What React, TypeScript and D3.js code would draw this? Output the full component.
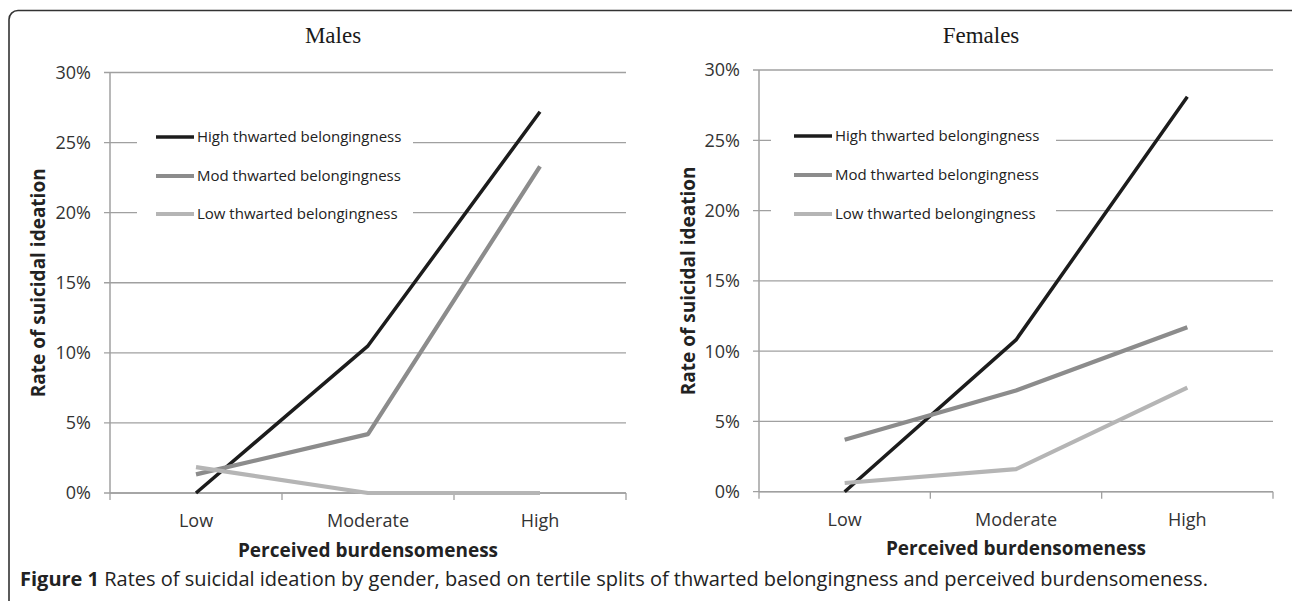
import React from "react";
import * as d3 from "d3";

const categories = ["Low", "Moderate", "High"];
const seriesNames = ["High thwarted belongingness", "Mod thwarted belongingness", "Low thwarted belongingness"];
const seriesColors = ["#1c1c1c", "#8c8c8c", "#b5b5b5"];
const seriesWidths = [3.5, 4.2, 4.2];

const malesHigh = [0, 10.5, 27.2];
const malesMod = [1.33, 4.2, 23.3];
const malesLow = [1.85, 0, 0];

const femalesHigh = [0, 10.8, 28.1];
const femalesMod = [3.7, 7.2, 11.7];
const femalesLow = [0.62, 1.6, 7.4];

const yTicks = [0, 5, 10, 15, 20, 25, 30];

const SANS = "'Open Sans', 'DejaVu Sans', sans-serif";
const SERIF = "'Liberation Serif', 'DejaVu Serif', serif";

type PanelProps = {
  title: string;
  values: number[][];
  x0: number;
  x1: number;
  yTop: number;
  yBottom: number;
  titleX: number;
  legendX: number;
  legendRows: number[];
  legendBox: [number, number];
  yTitleX: number;
  xTitleY: number;
};

function Panel(p: PanelProps) {
  const x = d3.scaleBand<string>().domain(categories).range([p.x0, p.x1]);
  const y = d3.scaleLinear().domain([0, 30]).range([p.yBottom, p.yTop]);
  const line = d3
    .line<number>()
    .x((_, i) => (x(categories[i]) as number) + x.bandwidth() / 2)
    .y((d) => y(d));
  const bounds = [...categories.map((c) => x(c) as number), p.x1];
  const midX = (p.x0 + p.x1) / 2;
  return (
    <g>
      <text x={p.titleX} y={43} textAnchor="middle" fontFamily={SERIF} fontSize={23} fill="#1a1a1a">
        {p.title}
      </text>
      {yTicks.map((t) => (
        <g key={t}>
          <line x1={p.x0 - 6} x2={p.x1} y1={y(t)} y2={y(t)} stroke="#a0a0a0" strokeWidth={1.3} />
          <text
            x={p.x0 - 19}
            y={y(t)}
            dy="0.36em"
            textAnchor="end"
            fontFamily={SANS}
            fontSize={18}
            fill="#333"
          >
            {t + "%"}
          </text>
        </g>
      ))}
      <line x1={p.x0} x2={p.x0} y1={p.yTop} y2={p.yBottom} stroke="#a0a0a0" strokeWidth={1.5} />
      <line x1={p.x0} x2={p.x1} y1={p.yBottom} y2={p.yBottom} stroke="#a0a0a0" strokeWidth={1.5} />
      {bounds.map((b, i) => (
        <line key={i} x1={b} x2={b} y1={p.yBottom} y2={p.yBottom + 7} stroke="#a0a0a0" strokeWidth={1.3} />
      ))}
      {categories.map((c) => (
        <text
          key={c}
          x={(x(c) as number) + x.bandwidth() / 2}
          y={p.yBottom + 34}
          textAnchor="middle"
          fontFamily={SANS}
          fontSize={18}
          fill="#333"
        >
          {c}
        </text>
      ))}
      <rect
        x={p.legendBox[0]}
        y={p.legendRows[0] - 18}
        width={p.legendBox[1] - p.legendBox[0]}
        height={p.legendRows[2] - p.legendRows[0] + 36}
        fill="#fff"
      />
      {p.values.map((v, i) => (
        <path
          key={i}
          d={line(v) as string}
          fill="none"
          stroke={seriesColors[i]}
          strokeWidth={seriesWidths[i]}
          strokeLinejoin="round"
        />
      ))}
      {seriesNames.map((n, i) => (
        <g key={n}>
          <line
            x1={p.legendX}
            x2={p.legendX + 38}
            y1={p.legendRows[i]}
            y2={p.legendRows[i]}
            stroke={seriesColors[i]}
            strokeWidth={seriesWidths[i]}
          />
          <text
            x={p.legendX + 41}
            y={p.legendRows[i]}
            dy="0.36em"
            fontFamily={SANS}
            fontSize={15}
            fill="#222"
          >
            {n}
          </text>
        </g>
      ))}
      <text
        transform={`translate(${p.yTitleX},${(p.yTop + p.yBottom) / 2}) rotate(-90)`}
        textAnchor="middle"
        dy="0.36em"
        fontFamily={SANS}
        fontWeight="bold"
        fontSize={19}
        fill="#222"
      >
        Rate of suicidal ideation
      </text>
      <text x={midX} y={p.xTitleY} textAnchor="middle" fontFamily={SANS} fontWeight="bold" fontSize={19} fill="#222">
        Perceived burdensomeness
      </text>
    </g>
  );
}

export default function App() {
  return (
    <svg
      width={1292}
      height={601}
      style={{ position: "absolute", left: 0, top: 0, background: "#fff" }}
    >
      <rect x={9} y={10.5} width={1300} height={620} rx={9} fill="#fff" stroke="#333" strokeWidth={1.6} />
      <Panel
        title="Males"
        values={[malesHigh, malesMod, malesLow]}
        x0={110}
        x1={626}
        yTop={72.5}
        yBottom={493}
        titleX={333}
        legendX={156}
        legendRows={[137, 176, 214]}
        legendBox={[137, 413]}
        yTitleX={38}
        xTitleY={557}
      />
      <Panel
        title="Females"
        values={[femalesHigh, femalesMod, femalesLow]}
        x0={759}
        x1={1273}
        yTop={70}
        yBottom={491.7}
        titleX={981}
        legendX={794}
        legendRows={[136, 175, 214]}
        legendBox={[771, 1056]}
        yTitleX={688}
        xTitleY={555}
      />
      <text x={20} y={586} fontFamily={SANS} fontSize={20} fill="#222">
        <tspan fontWeight="bold">Figure 1</tspan>
        <tspan> Rates of suicidal ideation by gender, based on tertile splits of thwarted belongingness and perceived burdensomeness.</tspan>
      </text>
    </svg>
  );
}
